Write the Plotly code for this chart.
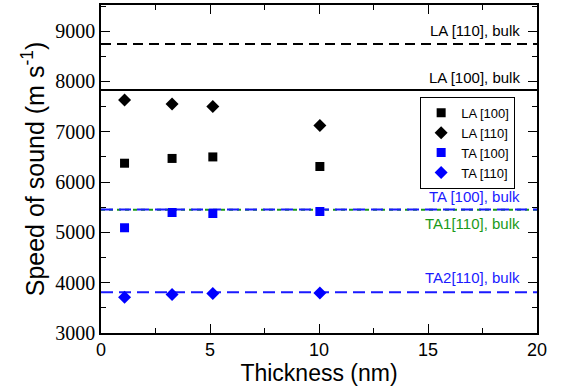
import plotly.graph_objects as go

thickness = [1.08, 3.26, 5.13, 10.04]
la100 = [6375, 6470, 6500, 6310]
la110 = [7632, 7553, 7500, 7125]
ta100 = [5092, 5395, 5375, 5415]
ta110 = [3711, 3764, 3783, 3796]

bulk_names = ["LA [110], bulk", "LA [100], bulk", "TA [100], bulk", "TA1[110], bulk", "TA2[110], bulk"]
bulk_values = [8743, 7830, 5455, 5450, 3808]
x_span = [0, 20]

fig = go.Figure()

# bulk lines
fig.add_trace(go.Scatter(x=x_span, y=[bulk_values[0]]*2, mode="lines",
                         line=dict(color="black", width=2, dash="10px,6px"), showlegend=False, hoverinfo="skip"))
fig.add_trace(go.Scatter(x=x_span, y=[bulk_values[1]]*2, mode="lines",
                         line=dict(color="black", width=2), showlegend=False, hoverinfo="skip"))
fig.add_trace(go.Scatter(x=x_span, y=[bulk_values[3]]*2, mode="lines",
                         line=dict(color="#1a9a1a", width=2, dash="4px,4px"), showlegend=False, hoverinfo="skip"))
fig.add_trace(go.Scatter(x=x_span, y=[bulk_values[2]]*2, mode="lines",
                         line=dict(color="#1a1aff", width=2, dash="12px,6px"), showlegend=False, hoverinfo="skip"))
fig.add_trace(go.Scatter(x=x_span, y=[bulk_values[4]]*2, mode="lines",
                         line=dict(color="#1a1aff", width=2, dash="12px,6px"), showlegend=False, hoverinfo="skip"))

fig.add_trace(go.Scatter(x=thickness, y=la100, mode="markers", name="LA [100]",
                         marker=dict(symbol="square", size=9, color="black")))
fig.add_trace(go.Scatter(x=thickness, y=la110, mode="markers", name="LA [110]",
                         marker=dict(symbol="diamond", size=10, color="black")))
fig.add_trace(go.Scatter(x=thickness, y=ta100, mode="markers", name="TA [100]",
                         marker=dict(symbol="square", size=9, color="#0000ff")))
fig.add_trace(go.Scatter(x=thickness, y=ta110, mode="markers", name="TA [110]",
                         marker=dict(symbol="diamond", size=10, color="#0000ff")))

label_colors = ["black", "black", "#1a1aff", "#1a9a1a", "#1a1aff"]
label_shift = [14, 13, 13, -14, 15]
for name, v, c, s in zip(bulk_names, bulk_values, label_colors, label_shift):
    fig.add_annotation(x=19.3, y=v, text=name, showarrow=False, xanchor="right", yanchor="middle",
                       yshift=s, font=dict(family="Liberation Sans", size=15, color=c))

fig.update_layout(
    width=563, height=387,
    margin=dict(l=101, r=26, t=3, b=54),
    plot_bgcolor="white", paper_bgcolor="white",
    showlegend=True,
    legend=dict(x=0.732, y=0.72, xanchor="left", yanchor="top",
                bordercolor="black", borderwidth=1, bgcolor="white",
                font=dict(family="Liberation Sans", size=13, color="black"),
                itemwidth=30, tracegroupgap=0),
)
fig.update_xaxes(range=[0, 20], dtick=5, tick0=0, ticks="inside", ticklen=9, tickwidth=1,
                 tickcolor="black", showline=True, linecolor="black", linewidth=1.5, mirror="ticks",
                 showgrid=False, zeroline=False,
                 minor=dict(dtick=2.5, ticks="inside", ticklen=5, tickcolor="black"),
                 tickfont=dict(family="Liberation Sans", size=18, color="black"),
                 title=dict(text="Thickness (nm)", font=dict(family="Liberation Sans", size=23, color="black"), standoff=0))
fig.update_yaxes(range=[3000, 9520], dtick=1000, tick0=3000, ticks="inside", ticklen=9, tickwidth=1,
                 tickcolor="black", showline=True, linecolor="black", linewidth=1.5, mirror="ticks",
                 showgrid=False, zeroline=False,
                 minor=dict(dtick=500, ticks="inside", ticklen=5, tickcolor="black"),
                 tickfont=dict(family="Liberation Serif", size=20, color="black"),
                 title=dict(text="Speed of sound (m s<sup>-1</sup>)", font=dict(family="Liberation Sans", size=25, color="black"), standoff=4))

fig.write_html("out.html")
